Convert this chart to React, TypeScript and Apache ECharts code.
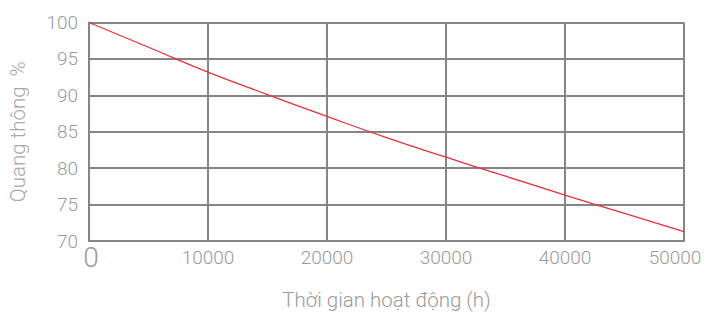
import React, { useEffect, useRef } from "react";
import * as echarts from "echarts";

const hours = [0, 5000, 10000, 15000, 20000, 25000, 30000, 35000, 40000, 45000, 50000];
const flux = [100, 96.6, 93.2, 90.1, 87.1, 84.2, 81.5, 78.9, 76.3, 73.8, 71.3];
const xTicks = [0, 10000, 20000, 30000, 40000, 50000];
const yTicks = [70, 75, 80, 85, 90, 95, 100];
const xName = "Thời gian hoạt động (h)";
const yName = "Quang thông  %";

export default function App() {
  const ref = useRef<HTMLDivElement>(null);
  useEffect(() => {
    document.body.style.margin = "0";
    const chart = echarts.init(ref.current!, null, { renderer: "svg" });
    const gridColor = "#858585";
    const textColor = "#9a9a9a";
    const font = "Roboto";
    chart.setOption({
      animation: false,
      grid: { left: 89, right: 21, top: 22.5, bottom: 71, containLabel: false, outerBoundsMode: "none" },
      xAxis: {
        type: "value",
        min: xTicks[0],
        max: xTicks[xTicks.length - 1],
        interval: 10000,
        name: xName,
        nameLocation: "middle",
        nameGap: 48,
        nameTextStyle: { color: textColor, fontSize: 20.5, fontFamily: font, fontWeight: 300 },
        axisLine: { show: true, lineStyle: { color: gridColor, width: 2 } },
        axisTick: { show: false },
        splitLine: { show: true, lineStyle: { color: gridColor, width: 2 } },
        axisLabel: {
          margin: 2,
          formatter: (v: number) =>
            v === 0 ? "{b|0}" : v === xTicks[xTicks.length - 1] ? "{l|" + v + "}" : "{n|" + v + "}",
          rich: {
            b: { fontSize: 28, lineHeight: 28, color: textColor, fontFamily: font, fontWeight: 300, padding: [0, 0, 0, 4] },
            n: { fontSize: 19, lineHeight: 28, color: textColor, fontFamily: font, fontWeight: 300 },
            l: { fontSize: 19, lineHeight: 28, color: textColor, fontFamily: font, fontWeight: 300, padding: [0, 18, 0, 0] },
          },
        },
      },
      yAxis: {
        type: "value",
        min: yTicks[0],
        max: yTicks[yTicks.length - 1],
        interval: 5,
        name: yName,
        nameLocation: "middle",
        nameGap: 61,
        nameTextStyle: { color: "#a8a8a8", fontSize: 20.5, fontFamily: font, fontWeight: 300 },
        axisLine: { show: true, lineStyle: { color: gridColor, width: 2 } },
        axisTick: { show: false },
        splitLine: { show: true, lineStyle: { color: gridColor, width: 2 } },
        axisLabel: { margin: 11, color: textColor, fontSize: 19, fontFamily: font, fontWeight: 300 },
      },
      series: [
        {
          type: "line",
          data: hours.map((h, i) => [h, flux[i]]),
          showSymbol: false,
          smooth: true,
          lineStyle: { color: "#e8303a", width: 1.3 },
        },
      ],
    });
    return () => chart.dispose();
  }, []);
  return <div ref={ref} style={{ width: 705, height: 312 }} />;
}
